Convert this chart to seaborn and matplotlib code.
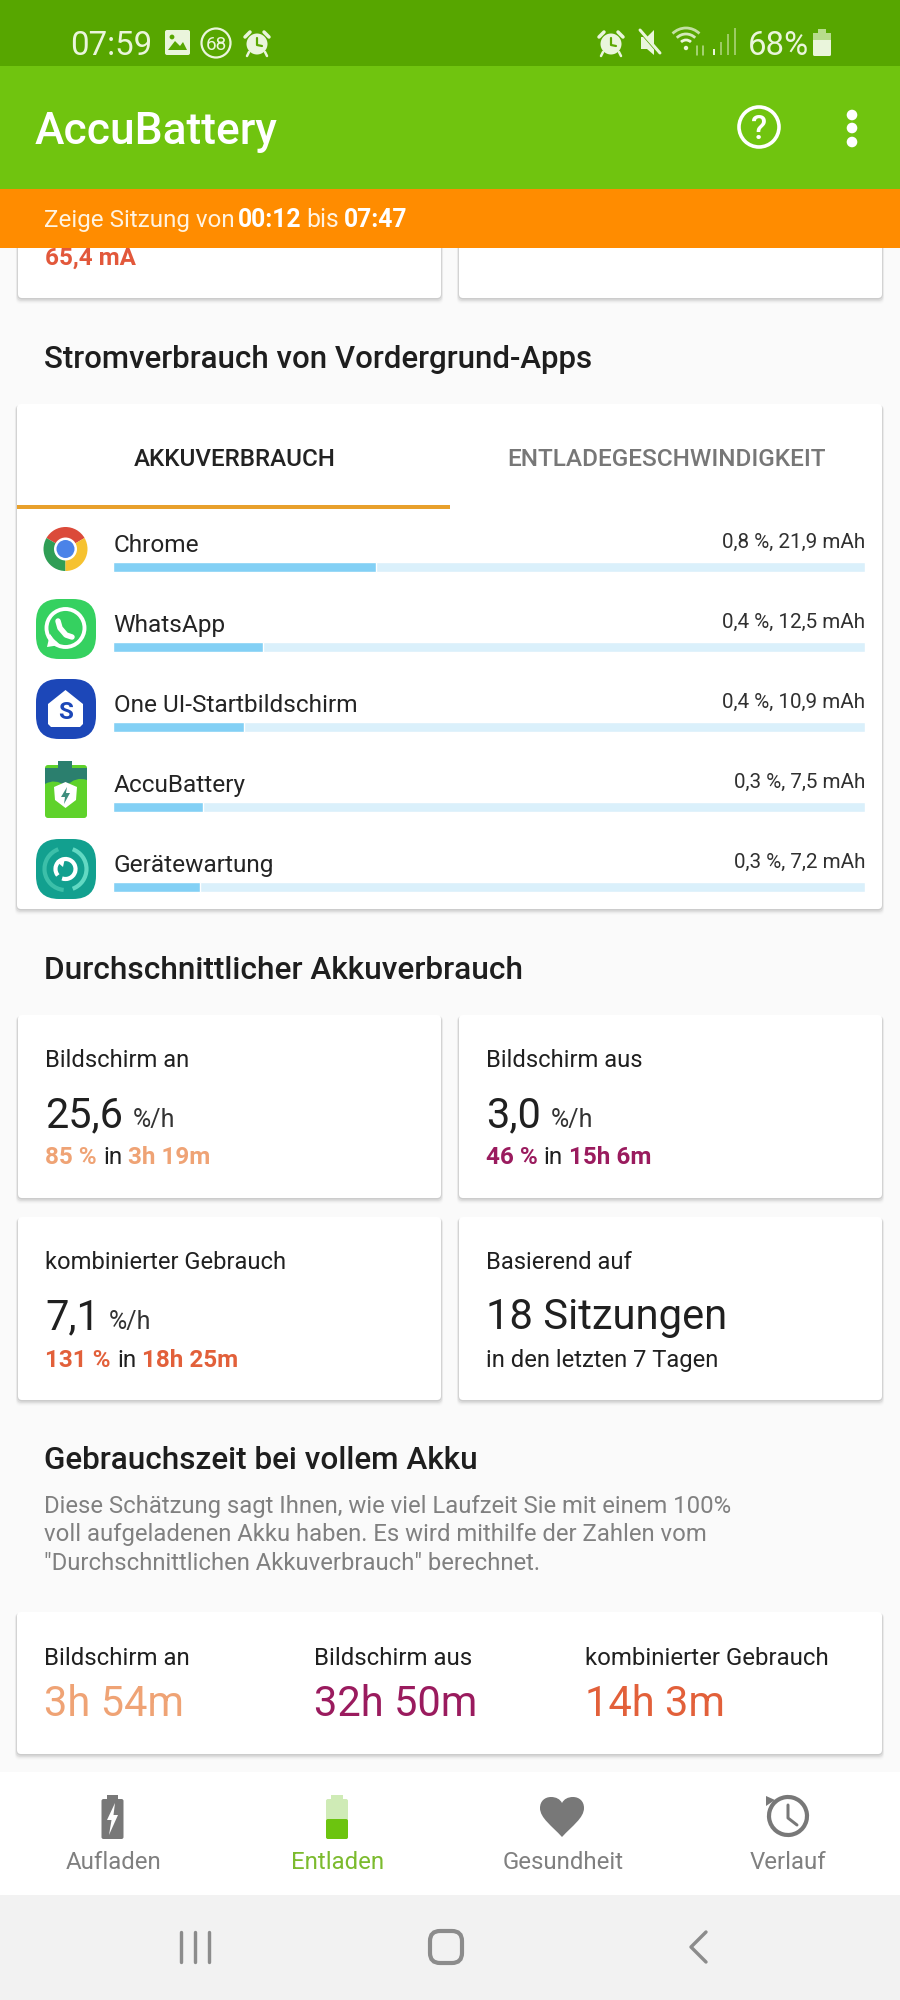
import matplotlib
matplotlib.use("Agg")
import numpy as np
import pandas as pd
import seaborn as sns
import matplotlib.pyplot as plt
from matplotlib.patches import FancyBboxPatch, Rectangle, Circle, Wedge, Polygon, PathPatch, Arc
from matplotlib.path import Path

# ---------- data ----------
apps = ["Chrome", "WhatsApp", "One UI-Startbildschirm", "AccuBattery", "Gerätewartung"]
app_percent = [0.8, 0.4, 0.4, 0.3, 0.3]
app_mah = [21.9, 12.5, 10.9, 7.5, 7.2]
track_mah = [62.6, 62.6, 62.6, 62.6, 62.6]
tabs = ["AKKUVERBRAUCH", "ENTLADEGESCHWINDIGKEIT"]
nav_labels = ["Aufladen", "Entladen", "Gesundheit", "Verlauf"]
avg_labels = ["Bildschirm an", "Bildschirm aus", "kombinierter Gebrauch"]
avg_rates = ["25,6", "3,0", "7,1"]
avg_percent = ["85 %", "46 %", "131 %"]
avg_time = ["3h 19m", "15h 6m", "18h 25m"]
full_time = ["3h 54m", "32h 50m", "14h 3m"]
desc_lines = ["Diese Schätzung sagt Ihnen, wie viel Laufzeit Sie mit einem 100%",
              "voll aufgeladenen Akku haben. Es wird mithilfe der Zahlen vom",
              "\"Durchschnittlichen Akkuverbrauch\" berechnet."]

ORANGE_L, PURPLE, ORANGE_D = "#EFA375", "#9A1B5E", "#E2603A"
sel_colors = [ORANGE_L, PURPLE, ORANGE_D]
INK, GREY = "#202020", "#7C7C7C"
PALE = "#EAF5DC"

sns.set_theme(style="white")
plt.rcParams["font.family"] = ["Roboto", "DejaVu Sans"]

fig = plt.figure(figsize=(9, 20), dpi=100, facecolor="#FAFAFA")
ax = fig.add_axes([0, 0, 1, 1])
ax.set_xlim(0, 900); ax.set_ylim(2000, 0); ax.axis("off")


def T(x, y, s, px, color=INK, weight="normal", ha="left", z=5):
    return ax.text(x, y, s, fontsize=px * 0.72, color=color, weight=weight, ha=ha,
                   va="baseline", zorder=z)


def R(x0, y0, x1, y1, color, z=1):
    ax.add_patch(Rectangle((x0, y0), x1 - x0, y1 - y0, fc=color, ec="none", zorder=z))


def RR(x0, y0, x1, y1, color, r=4, z=2, **kw):
    kw.setdefault("ec", "none")
    p = FancyBboxPatch((x0 + r, y0 + r), x1 - x0 - 2 * r, y1 - y0 - 2 * r,
                       boxstyle=f"round,pad={r},rounding_size={r}", fc=color, zorder=z, **kw)
    ax.add_patch(p)
    return p


def card(x0, y0, x1, y1):
    for grow, a in [(6, .012), (5, .018), (4, .03), (3, .05), (1.5, .08)]:
        RR(x0 - grow * .4, y0 + 1, x1 + grow * .4, y1 + grow, "#000000", r=5, z=1.5, alpha=a)
    RR(x0, y0, x1, y1, "white", r=4, z=2)


def L(xs, ys, color, lw, z=6, cap="round", alpha=1):
    ax.plot(xs, ys, color=color, lw=lw * 0.72, solid_capstyle=cap, zorder=z, alpha=alpha,
            solid_joinstyle="round")


def alarm(cx, cy, z=12):
    ax.add_patch(Circle((cx, cy + 1), 10.5, fc=PALE, ec="none", zorder=z))
    L([cx, cx, cx + 5], [cy - 5, cy + 2, cy + 3], "#5BA800", 2.2, z + 1)
    L([cx - 12, cx - 7], [cy - 6, cy - 11], PALE, 3.5, z)
    L([cx + 12, cx + 7], [cy - 6, cy - 11], PALE, 3.5, z)
    L([cx - 8, cx - 10], [cy + 9, cy + 13], PALE, 2.5, z)
    L([cx + 8, cx + 10], [cy + 9, cy + 13], PALE, 2.5, z)


# ---------- chrome: status bar / app bar / session banner ----------
R(0, 0, 900, 66, "#57A600", 10)
R(0, 66, 900, 189, "#70C40F", 10)
R(0, 189, 900, 248, "#FF8C00", 10)

T(70, 55, "07:59", 33, PALE, z=12)
RR(165, 30, 190, 55, PALE, r=2, z=12)
ax.add_patch(Polygon([[168, 50], [175, 41], [180, 46], [183, 42], [187, 50]], fc="#57A600", ec="none", zorder=13))
ax.add_patch(Circle((172, 37), 2.4, fc="#57A600", ec="none", zorder=13))
ax.add_patch(Circle((216, 43), 14.5, fc="none", ec=PALE, lw=1.6, zorder=12))
T(216, 50, "68", 19, PALE, ha="center", z=12)
alarm(257, 43)
alarm(611, 43)
ax.add_patch(Polygon([[641, 37], [647, 37], [654, 30], [654, 55], [647, 49], [641, 49]], fc=PALE, ec="none", zorder=12))
L([640, 660], [30, 53], PALE, 3, 13)
L([641, 661], [33, 56], "#57A600", 2, 12.5)
for r_, a_ in [(19, .75), (13, .85), (7, 1)]:
    ax.add_patch(Arc((686, 47), 2 * r_, 2 * r_, theta1=225, theta2=315, ec=PALE, lw=2, alpha=a_, zorder=12))
ax.add_patch(Circle((686, 48), 2.2, fc=PALE, ec="none", zorder=12))
L([697, 697], [46, 55], "#B7DC8C", 1.6, 12)
L([703, 703], [46, 55], "#B7DC8C", 1.6, 12)
for i, h in enumerate([6, 13, 21, 27]):
    L([714 + i * 7] * 2, [55 - h, 55], "#9CCB63" if i else PALE, 2, 12, cap="butt")
T(748, 55, "68%", 33, PALE, z=12)
RR(813, 33, 831, 56, PALE, r=1.5, z=12)
R(818, 29, 826, 34, "#B7DC8C", 12)
R(813, 33, 831, 40, "#B7DC8C", 12.5)

T(35, 144, "AccuBattery", 44.3, "white", weight="medium", z=12)
ax.add_patch(Circle((759, 127), 20, fc="none", ec="white", lw=2.6, zorder=12))
T(759, 139, "?", 33, "white", weight="medium", ha="center", z=12)
for y_ in (115, 128, 142):
    ax.add_patch(Circle((852, y_), 5.3, fc="white", ec="none", zorder=12))

T(44, 227, "Zeige Sitzung von", 24.1, "#FFF3E0", z=12)
T(237.5, 227, "00:12", 24.8, "white", weight="bold", z=12)
T(306.5, 227, "bis", 24.8, "#FFF3E0", z=12)
T(343.5, 227, "07:47", 24.8, "white", weight="bold", z=12)

# ---------- top cut-off cards ----------
card(18, 200, 441, 298)
card(459, 200, 882, 298)
T(45, 265, "65,4 mA", 24.3, "#E2583B", weight="bold", z=5)

# ---------- foreground apps ----------
T(44, 368, "Stromverbrauch von Vordergrund-Apps", 31.3, "#1E1E1E", weight="medium")
card(17, 404, 882, 909)
T(133.5, 466, tabs[0], 24.1, "#222222", weight="medium")
T(507, 466, tabs[1], 24.4, "#777777", weight="medium")
R(17, 505, 450, 509, "#E8A02C", 3)

df = pd.DataFrame({"app": apps, "mah": app_mah, "track": track_mah})
bar_ax = fig.add_axes([113.4 / 900, 1 - 927 / 2000, 751.6 / 900, 400 / 2000], facecolor="none", zorder=3)
sns.barplot(data=df, x="track", y="app", ax=bar_ax, color="#DAF0FB", width=0.125, saturation=1, orient="h")
sns.barplot(data=df, x="mah", y="app", ax=bar_ax, color="#83D0F5", width=0.125, saturation=1, orient="h")
bar_ax.set_xlim(0, 62.6)
bar_ax.set_ylim(4.5, -0.5)
bar_ax.axis("off")

for i, (a, p, m) in enumerate(zip(apps, app_percent, app_mah)):
    T(113.5, 552 + 80 * i, a, 24.4, "#242424")
    T(865, 548 + 80 * i, f"{p} %, {m} mAh".replace(".", ","), 20.7, "#303030", ha="right")

# icons
cx = 65.5
# Chrome
cy = 549
ax.add_patch(Wedge((cx, cy), 22, -150, -30, fc="#DB4A3A", ec="none", zorder=4))
ax.add_patch(Wedge((cx, cy), 22, 90, 210, fc="#2F9E55", ec="none", zorder=4))
ax.add_patch(Wedge((cx, cy), 22, -30, 90, fc="#F6C230", ec="none", zorder=4))
ax.add_patch(Circle((cx, cy), 11.5, fc="white", ec="none", zorder=4.5))
ax.add_patch(Circle((cx, cy), 9, fc="#4B83E8", ec="none", zorder=4.6))
# WhatsApp
cy = 629
RR(36, 599, 96, 659, "#35D160", r=23, z=4)
ax.add_patch(Circle((cx, cy - 1), 19, fc="none", ec="white", lw=2.8, zorder=4.5))
ax.add_patch(Polygon([[47, 647], [50, 634], [60, 645]], fc="white", ec="none", zorder=4.5))
ax.add_patch(Circle((cx, cy - 1), 16, fc="#35D160", ec="none", zorder=4.6))
L([58, 60, 66, 72], [621, 628, 635, 637], "white", 5.5, 4.7)
# One UI
RR(36, 679, 96, 739, "#1C47B8", r=23, z=4)
ax.add_patch(Polygon([[cx, 690], [83, 704], [83, 724], [80, 727], [51, 727], [48, 724], [48, 704]],
                     fc="white", ec="none", zorder=4.5))
T(cx, 719, "S", 24, "#1C47B8", weight="bold", ha="center", z=4.6)
# AccuBattery
RR(45, 765, 87, 818, "#5FD22B", r=3, z=4)
R(58, 761, 72, 768, "#2B7F6E", 4.2)
ax.add_patch(PathPatch(Path([(45, 784), (45, 768), (87, 768), (87, 780), (76, 776), (66, 786), (55, 778), (45, 784)],
                            [1, 2, 2, 2, 3, 3, 3, 3]), fc="#2B7F6E", ec="none", zorder=4.3))
ax.add_patch(Polygon([[54, 787], [cx, 782], [77, 787], [76, 800], [cx, 808], [55, 800]], fc="white", ec="none", zorder=4.5))
ax.add_patch(Polygon([[67, 787], [61, 797], [65, 797], [64, 804], [70, 793], [66, 793]], fc="#3E8E7E", ec="none", zorder=4.6))
# Geraetewartung
cy = 869
RR(36, 839, 96, 899, "#12A08F", r=23, z=4)
ax.add_patch(Arc((cx, cy), 42, 42, theta1=-70, theta2=70, ec="#62D9C3", lw=3, zorder=4.5))
ax.add_patch(Arc((cx, cy), 42, 42, theta1=95, theta2=250, ec="#3CBFA9", lw=3, zorder=4.5))
ax.add_patch(Arc((cx, cy), 20, 20, theta1=-220, theta2=110, ec="white", lw=3, zorder=4.5))
ax.add_patch(Polygon([[56, 861], [65, 858], [63, 867]], fc="white", ec="none", zorder=4.6))

# ---------- average usage ----------
T(44, 979, "Durchschnittlicher Akkuverbrauch", 31.6, "#1E1E1E", weight="medium")
card(18, 1015, 441, 1198)
card(459, 1015, 882, 1198)
card(18, 1217, 441, 1400)
card(459, 1217, 882, 1400)

card_pos = [(45, 0), (486, 0), (45, 202)]
rate_unit_x = [133, 551, 109]
in_x = [103, 543, 117.5]
time_x = [127.5, 569, 142]
for i in range(3):
    x, dy = card_pos[i]
    T(x, 1067 + dy, avg_labels[i], 23.8)
    T(x, 1127 + dy, avg_rates[i], 41.5)
    T(rate_unit_x[i], 1127 + dy, "%/h", 25, "#333333")
    ysub = 1164 if i < 2 else 1367
    T(x, ysub, avg_percent[i], 24.2, sel_colors[i], weight="bold")
    T(in_x[i], ysub, "in", 24.2)
    T(time_x[i], ysub, avg_time[i], 24.2, sel_colors[i], weight="bold")
T(486, 1269, "Basierend auf", 23.8)
T(486, 1329, "18 Sitzungen", 41.8)
T(486, 1367, "in den letzten 7 Tagen", 23.8)

# ---------- full charge ----------
T(44.5, 1469, "Gebrauchszeit bei vollem Akku", 31.5, "#1E1E1E", weight="medium")
for i, line in enumerate(desc_lines):
    T(44.5, 1513 + 28.5 * i, line, 23.85, "#808080")
card(17, 1612, 882, 1754)
for x, lab, val, col in zip([44.5, 314.5, 585], avg_labels, full_time, sel_colors):
    T(x, 1665, lab, 24)
    T(x, 1716, val, 41.6, col)

# ---------- bottom navigation ----------
R(0, 1772, 900, 1895, "white", 8)
R(0, 1895, 900, 2000, "#F2F2F2", 8)
nav_x = [113.5, 337.5, 563.5, 788]
for x, lab, col in zip(nav_x, nav_labels, ["#808080", "#7CBB2E", "#808080", "#808080"]):
    T(x, 1869, lab, 24, col, ha="center", z=9)

NG = "#787878"
RR(101.5, 1799, 123.5, 1839, NG, r=2, z=9)
R(107, 1795, 118, 1800, NG, 9)
ax.add_patch(Polygon([[115, 1803], [107, 1820], [111.5, 1820], [109, 1835], [118, 1815], [113.5, 1815]],
                     fc="white", ec="none", zorder=10))
RR(326, 1799, 348, 1839, "#CFEBB6", r=2, z=9)
R(331, 1795, 343, 1800, "#CFEBB6", 9)
RR(326, 1819, 348, 1839, "#6CC40F", r=2, z=9.5)
heart = Path([(562, 1837),
              (552, 1826), (540, 1818), (540, 1808),
              (540, 1801), (545, 1797), (551, 1797),
              (556, 1797), (560, 1799), (562, 1803),
              (564, 1799), (568, 1797), (573, 1797),
              (579, 1797), (584, 1801), (584, 1808),
              (584, 1818), (572, 1826), (562, 1837)],
             [1] + [4] * 18)
ax.add_patch(PathPatch(heart, fc=NG, ec="none", zorder=9))
ax.add_patch(Arc((788, 1816), 38, 38, theta1=-210, theta2=150, ec=NG, lw=3, zorder=9))
ax.add_patch(Polygon([[766, 1806], [775, 1800], [766, 1796]], fc=NG, ec="none", zorder=9))
L([788, 788, 797], [1805, 1818, 1825], NG, 3, 9)

for x in (181, 195, 209):
    L([x, x], [1932, 1962], "#8C8C8C", 3.4, 9)
ax.add_patch(FancyBboxPatch((436, 1937), 20, 20, boxstyle="round,pad=6,rounding_size=10",
                            fc="none", ec="#8C8C8C", lw=3, zorder=9))
L([706, 691, 706], [1932, 1947, 1962], "#8C8C8C", 3.4, 9)

fig.savefig("out.png", dpi=100, facecolor=fig.get_facecolor())
